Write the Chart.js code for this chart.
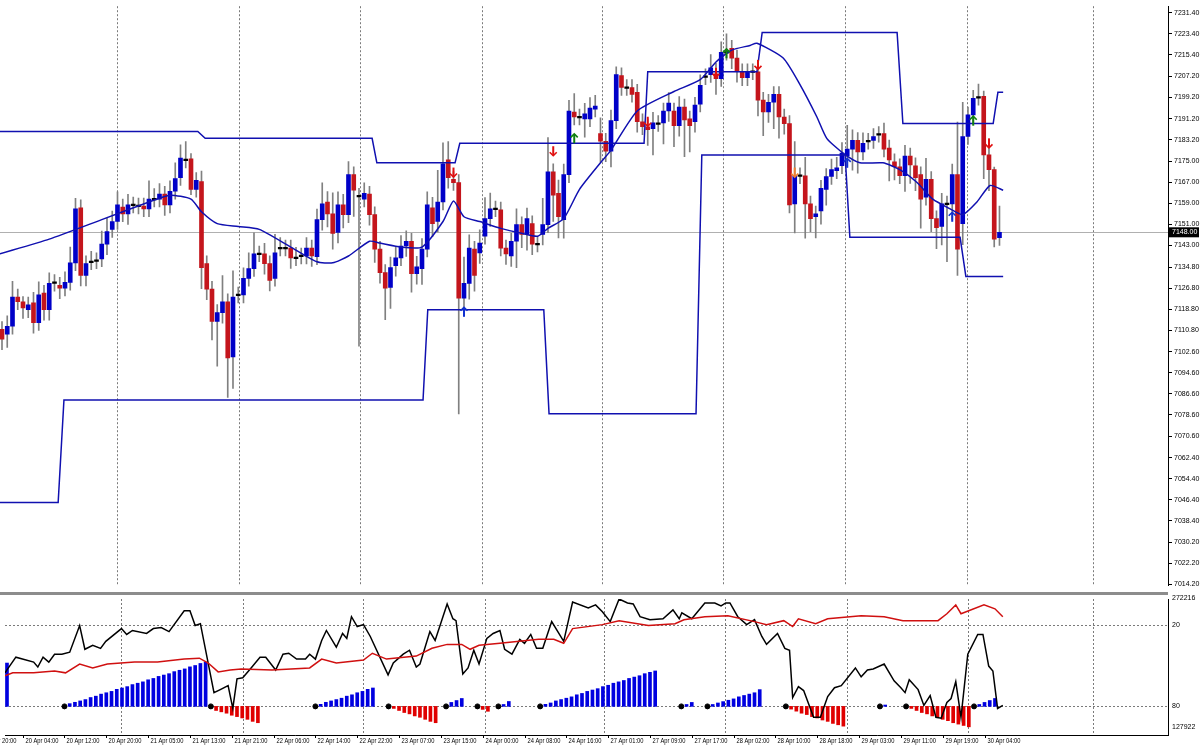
<!DOCTYPE html>
<html><head><meta charset="utf-8">
<script src="https://cdn.jsdelivr.net/npm/chart.js@4.4.1/dist/chart.umd.min.js"></script>
<style>
html,body{margin:0;padding:0;background:#fff;overflow:hidden}
#w{position:relative;width:1200px;height:747px}
#c1{position:absolute;left:0;top:0}
#c2{position:absolute;left:0;top:594px}
#sep{position:absolute;left:0;top:592px;width:1168px;height:3px;background:#8c8c8c}
</style></head><body>
<div id="w"><canvas id="c1" width="1200" height="592"></canvas><div id="sep"></div><canvas id="c2" width="1200" height="153"></canvas></div>
<script>
const opens=[7111.1,7109.3,7112.3,7123.4,7121.6,7118.6,7121.2,7113.7,7124.9,7118.6,
7128.6,7127.9,7126.8,7129.0,7136.4,7157.3,7131.6,7136.8,7137.2,7137.9,
7143.5,7149.1,7152.1,7157.6,7155.0,7158.4,7158.0,7158.0,7156.9,7160.6,
7160.6,7162.5,7158.4,7163.6,7168.8,7175.5,7175.9,7164.3,7167.3,7136.1,
7126.4,7114.1,7117.5,7121.6,7100.7,7124.2,7124.2,7130.5,7134.2,7139.8,
7139.8,7136.1,7130.5,7142.0,7142.0,7142.0,7138.3,7139.0,7139.0,7142.0,
7138.7,7152.8,7159.5,7155.0,7148.0,7158.4,7154.7,7169.9,7161.7,7160.6,
7162.5,7154.7,7141.6,7132.7,7127.1,7135.3,7138.3,7142.8,7144.6,7132.3,
7134.2,7141.6,7157.3,7152.1,7159.5,7175.5,7168.1,7166.9,7123.0,7128.6,
7141.6,7140.2,7146.5,7153.2,7156.9,7156.5,7142.0,7139.0,7144.6,7150.9,
7147.2,7151.3,7143.5,7147.2,7150.9,7171.0,7162.8,7152.8,7169.9,7193.7,
7191.8,7191.1,7191.1,7194.8,7185.5,7182.6,7178.8,7190.4,7207.5,7203.0,
7203.0,7201.2,7190.0,7188.1,7187.4,7189.3,7189.6,7194.1,7194.1,7188.5,
7195.6,7191.1,7190.0,7196.7,7207.1,7207.9,7208.2,7206.4,7216.4,7217.9,
7214.2,7209.0,7206.7,7209.0,7209.0,7198.2,7193.7,7197.4,7200.4,7191.8,
7189.3,7158.8,7169.5,7169.5,7158.8,7153.9,7156.1,7164.3,7169.2,7171.4,
7173.3,7177.0,7179.6,7182.9,7178.5,7182.6,7182.9,7185.2,7185.5,7180.0,
7174.8,7172.9,7169.5,7177.0,7173.3,7169.9,7161.3,7168.1,7153.2,7150.2,
7158.8,7158.8,7169.9,7151.3,7184.4,7192.6,7199.3,7199.7,7177.4,7171.8,
7146.0];
const closes=[7107.4,7112.3,7123.4,7121.6,7119.3,7120.4,7113.7,7124.2,7118.6,7128.6,
7128.9,7126.8,7129.0,7136.4,7156.9,7131.6,7136.1,7136.8,7137.2,7143.5,
7148.3,7152.1,7158.4,7155.0,7158.4,7158.4,7158.0,7156.9,7160.6,7160.6,
7162.5,7158.4,7163.6,7168.4,7176.2,7175.5,7164.3,7167.7,7134.6,7126.4,
7114.1,7117.5,7121.6,7100.3,7123.4,7124.2,7130.5,7134.2,7139.8,7139.8,
7136.1,7129.7,7140.2,7142.0,7142.0,7138.3,7138.3,7139.0,7142.0,7139.0,
7152.8,7158.8,7155.0,7147.6,7158.4,7154.7,7169.9,7164.0,7161.7,7162.8,
7154.7,7141.6,7132.7,7126.8,7134.6,7138.3,7142.8,7144.6,7132.3,7134.9,
7141.6,7158.4,7151.3,7159.5,7174.0,7168.8,7166.9,7123.0,7128.6,7142.0,
7131.6,7143.9,7153.2,7156.9,7156.9,7142.0,7139.8,7144.6,7150.9,7147.2,
7153.2,7143.5,7143.5,7150.9,7171.0,7162.1,7153.9,7169.9,7194.1,7191.8,
7191.8,7193.0,7195.2,7196.0,7182.6,7178.8,7190.4,7207.9,7203.0,7203.0,
7200.4,7190.0,7188.1,7187.0,7189.6,7189.3,7194.1,7197.1,7188.5,7195.6,
7190.7,7188.5,7196.3,7203.8,7207.1,7210.5,7206.4,7216.4,7216.4,7214.2,
7209.0,7206.7,7209.0,7209.0,7198.2,7193.7,7197.4,7200.4,7191.8,7189.3,
7158.4,7169.5,7169.5,7158.8,7153.2,7155.0,7164.7,7169.2,7171.8,7172.5,
7178.1,7179.6,7182.9,7178.5,7181.8,7182.6,7184.4,7185.2,7179.6,7175.5,
7172.9,7169.5,7177.0,7173.6,7168.8,7160.6,7168.1,7153.2,7149.8,7158.8,
7158.8,7169.9,7141.6,7184.4,7192.6,7198.9,7199.3,7177.4,7171.8,7145.4,
7148.0];
const wickUp=[3,4,6,3,2,3,4,5,3,4, 3,3,4,6,4,3,3,4,3,5, 5,4,5,3,4,3,3,3,7,4, 4,3,4,6,5,7,2,3,4,3,
3,3,10,3,10,3,4,6,8,3, 4,3,7,4,3,3,4,3,4,3, 4,8,4,8,5,4,5,3,3,4, 3,3,3,3,4,4,4,4,3,4,
4,5,4,12,8,7,3,3,10,5, 3,5,8,6,3,3,3,3,6,3, 4,3,3,10,13,3,5,4,4,7, 3,4,4,4,6,3,4,3,3,3,
3,3,3,3,4,3,3,4,3,4, 3,3,3,4,3,5,4,4,7,3, 3,3,3,3,3,3,3,3,3,3, 3,13,3,7,3,3,3,3,4,4,
4,9,4,3,4,3,3,3,4,3, 3,3,4,3,3,3,8,3,3,4, 3,4,20,13,3,3,5,2,3,1, 10];
const wickDn=[4,5,3,3,4,3,4,3,4,4, 3,4,3,3,3,4,4,3,3,3, 4,3,3,3,4,3,3,3,3,3, 3,4,3,3,3,3,2,3,8,4,
7,17,4,15,12,3,3,3,3,3, 4,4,3,3,3,4,3,3,3,4, 3,4,5,6,4,5,3,10,57,3, 4,5,4,12,8,4,3,4,7,4,
6,3,5,4,3,4,3,44,4,6, 6,4,3,3,3,3,4,4,10,5, 6,4,3,4,3,10,8,7,3,3, 3,7,3,3,8,4,6,3,3,3,
3,4,3,6,10,3,8,4,8,4, 14,10,4,3,3,3,6,3,3,4, 4,3,3,3,6,9,4,10,8,4, 3,11,3,13,5,8,5,6,3,3,
3,4,8,8,3,3,3,3,3,8, 5,3,6,7,5,11,3,5,8,7, 22,6,10,8,3,3,3,9,8,3, 3];
const maLine=[[-0.4,7139.8],[9,7145.4],[19,7152.8],[28,7159.5],[32,7162.1],[36,7160.6],[38,7155.8],[41,7151.3],[45,7150.2],[49,7149.1],[55,7142.4],[60,7136.8],[63,7136.4],[66,7139.0],[70,7144.6],[72,7143.9],[76,7142.4],[80,7142.4],[84,7152.1],[86,7159.9],[88,7153.9],[91,7152.1],[95,7149.5],[99,7147.6],[102,7146.5],[104,7149.5],[107,7153.2],[110,7164.3],[114,7174.4],[116,7179.2],[121,7194.1],[128,7201.5],[133,7206.0],[136,7212.7],[139,7217.2],[142.5,7219.0],[143.8,7219.8],[148.8,7214.2],[152,7204.1],[155.2,7191.9],[157.1,7183.7],[160.2,7178.1],[163.4,7174.4],[167.8,7174.4],[171,7171.8],[174.3,7166.9],[177.3,7160.6],[180.6,7156.9],[183,7154.7],[185.7,7159.5],[188.2,7165.8],[190.7,7164.0]];
const upperBand=[[-0.4,7186.3],[37.3,7186.3],[38.7,7183.7],[70.5,7183.7],[71.4,7174.4],[86.3,7174.4],[87.2,7181.8],[122.3,7181.8],[123.0,7209.0],[143.8,7209.0],[144.8,7223.9],[170.5,7223.9],[171.6,7189.3],[188.8,7189.3],[189.7,7201.2],[190.7,7201.2]];
const lowerBand=[[-0.4,7045.3],[10.7,7045.3],[11.8,7084.3],[80.2,7084.3],[81.1,7118.6],[103.2,7118.6],[104.2,7079.1],[132.2,7079.1],[133.3,7177.4],[160.6,7177.4],[161.5,7146.1],[182.5,7146.1],[183.6,7131.2],[190.7,7131.2]];
const redArrows=[[105,7178.8],[86,7170.7],[123,7190.0],[136,7208.6],[144,7211.6],[151,7170.7],[188,7181.8]];
const greenArrows=[[109,7183.7],[138,7216.0],[185,7190.4]];
const blueArrows=[[88,7117.8],[161,7174.4],[181,7153.9]];
const priceTicks=[7231.4,7223.4,7215.4,7207.2,7199.2,7191.2,7183.2,7175.0,7167.0,7159.0,7151.0,7143.0,7134.8,7126.8,7118.8,7110.8,7102.6,7094.6,7086.6,7078.6,7070.6,7062.4,7054.4,7046.4,7038.4,7030.2,7022.2,7014.2];
const lastPrice=7148.0;
const dayLines=[21.9,45.1,68.2,91.4,114.3,137.3,160.6,183.8,207.8];
const timeLabels=[[-5,"17 Apr 20:00"],[3,"20 Apr 04:00"],[11,"20 Apr 12:00"],[19,"20 Apr 20:00"],[27,"21 Apr 05:00"],[35,"21 Apr 13:00"],[43,"21 Apr 21:00"],[51,"22 Apr 06:00"],[59,"22 Apr 14:00"],[67,"22 Apr 22:00"],[75,"23 Apr 07:00"],[83,"23 Apr 15:00"],[91,"24 Apr 00:00"],[99,"24 Apr 08:00"],[107,"24 Apr 16:00"],[115,"27 Apr 01:00"],[123,"27 Apr 09:00"],[131,"27 Apr 17:00"],[139,"28 Apr 02:00"],[147,"28 Apr 10:00"],[155,"28 Apr 18:00"],[163,"29 Apr 03:00"],[171,"29 Apr 11:00"],[179,"29 Apr 19:00"],[187,"30 Apr 04:00"]];
const histBlue=[[0,48.2],
[12,78],[13,77],[14,76],[15,75],[16,73.5],[17,72.5],[18,71],[19,70],[20,69],[21,67.5],[22,66.5],[23,65.5],[24,64],[25,63],[26,62],[27,60.5],[28,59.5],[29,58],[30,57],[31,56],[32,54.5],[33,53.5],[34,52.5],[35,51],[36,50],[37,48.5],[38,47.5],
[60,78.5],[61,77],[62,76],[63,75],[64,74],[65,72.5],[66,71.5],[67,70],[68,69],[69,67.5],[70,66.5],
[85,77.1],[86,75.7],[87,74.2],[95,78.6],[96,76.4],
[103,78.5],[104,77.5],[105,76],[106,75],[107,74],[108,73],[109,71.5],[110,70.5],[111,69],[112,68],[113,67],[114,65.5],[115,64.5],[116,63],[117,62],[118,61],[119,59.5],[120,58.5],[121,57.5],[122,56],[123,55],[124,54],
[130,78.6],[131,77.1],
[135,78.6],[136,77.5],[137,76.5],[138,75.5],[139,74.5],[140,73],[141,72],[142,71],[143,70],[144,67.7],
[168,79],[186,78.6],[187,77.1],[188,75.7],[189,74.2]];
const histRed=[[40,83],[41,84],[42,85],[43,86.5],[44,87.5],[45,88.5],[46,89.5],[47,91],[48,92],
[74,81.5],[75,83],[76,84.5],[77,85.5],[78,87],[79,88],[80,89.5],[81,91],[82,92],
[91,82.2],[92,83.6],
[150,82],[151,83.5],[152,85],[153,86],[154,87.5],[155,88.5],[156,90],[157,91],[158,92.5],[159,93.5],[160,94.5],
[173,81.5],[174,83],[175,84.5],[176,85.5],[177,87],[178,88],[179,89.5],[180,90.5],[181,92],[182,93],[183,94],[184,95]];
const histDots=[11,39,59,73,84,90,94,102,129,134,149,167,172,185];
const blackLine=[[-0.4,55.4],[1.7,43.9],[5.1,47.5],[5.9,51.1],[6.9,43.9],[8.0,47.5],[9.1,41.7],[10.5,41.7],[12.0,40.2],[13.9,20.7],[14.9,38.1],[16.4,35.2],[17.9,37.4],[18.9,32.3],[21.9,22.9],[22.9,27.2],[24.0,24.3],[26.7,26.5],[28.0,22.9],[29.5,22.2],[31.0,25.1],[33.9,9.9],[35.0,9.9],[36.0,20.7],[37.0,19.3],[39.6,69.9],[40.8,67.7],[42.3,64.8],[43.2,81.5],[44.0,59.8],[45.1,59.0],[46.7,51.8],[48.4,43.9],[49.5,43.9],[51.4,53.3],[52.8,41.7],[53.9,41.0],[55.4,45.3],[57.1,45.3],[57.9,41.7],[59.0,45.3],[60.2,31.6],[61.1,24.3],[63.0,36.6],[64.2,26.5],[65.0,30.1],[65.9,14.2],[67.0,21.4],[68.2,20],[69.5,28.7],[72.9,56.9],[73.9,48.2],[75.8,41.7],[77.0,38.8],[78.3,51.1],[79.0,48.9],[80.9,25.1],[81.9,31.6],[84.2,4.8],[85.3,15.7],[85.9,17.1],[87.2,56.2],[88.2,51.8],[89.3,38.8],[90.3,48.9],[91.8,30.1],[93.0,26.5],[94.3,24.3],[95.2,38.1],[96.6,41.7],[98.1,30.8],[99.0,33.7],[100.2,27.2],[101.3,37.4],[102.5,37.4],[104.2,17.8],[106.5,32.3],[108.2,3.4],[111.2,7.7],[112.6,5.5],[113.9,10.6],[115.4,17.8],[117.1,1.2],[118.7,4.1],[119.8,4.8],[121.1,14.2],[123.0,16.4],[125.5,15.7],[127.4,9.2],[128.6,15.7],[129.1,11.3],[131.0,15.7],[133.5,4.1],[135.4,4.1],[136.6,6.3],[137.5,4.1],[138.3,4.1],[139.8,14.2],[141.5,20],[143.0,16.4],[144.4,28.7],[145.3,34.5],[147.4,26.5],[148.8,37.4],[149.7,38.8],[150.3,73.5],[151.4,65.5],[152.4,68.4],[154.3,88.0],[155.6,88.0],[157.0,72.8],[158.3,66.3],[159.6,64.8],[162.3,51.8],[163.4,58.3],[164.6,53.3],[165.7,52.5],[167.8,48.9],[169.7,61.2],[171.0,66.3],[171.8,69.9],[172.6,60.5],[174.3,67.7],[175.4,79.3],[176.6,72.1],[177.7,88.0],[178.7,88.7],[179.8,77.1],[180.6,74.2],[181.5,61.9],[182.5,88.0],[183.8,41.7],[185.7,27.2],[186.7,27.2],[187.8,50.4],[188.6,54.0],[189.5,81.5],[190.5,79.3]];
const redLine=[[-0.4,57.6],[1.1,55.4],[5.1,55.4],[9.1,54.0],[11.2,55.4],[13.9,48.9],[16.4,51.8],[19.2,48.9],[24.4,47.5],[28.8,47.5],[33.9,45.3],[36.8,44.6],[38.5,48.2],[40.4,54.7],[42.7,53.3],[44.8,52.5],[50.7,53.3],[57.9,51.8],[60.2,45.3],[63.0,48.2],[68.2,46.0],[69.9,41.0],[72.6,45.3],[78.3,43.1],[81.3,37.4],[84.2,34.5],[87.0,34.5],[88.6,38.1],[90.3,35.2],[94.3,33.7],[101.7,30.8],[104.6,30.8],[106.5,33.7],[108.2,22.9],[113.9,20],[117.1,17.1],[122.7,20.7],[127.8,19.3],[129.5,16.4],[133.5,14.2],[137.9,13.5],[143.0,17.8],[145.3,20],[148.6,17.1],[150.3,21.4],[151.4,15.7],[154.7,19.3],[157.0,15.7],[163.4,13.5],[167.8,14.2],[171.4,17.1],[178.1,17.1],[179.8,12.0],[181.5,5.5],[182.5,12.0],[186.9,5.5],[189.0,8.4],[190.5,14.2]];
const indLabels=[[0.4,"272216"],[20,"20"],[80,"80"],[95,"127922"]];

const XMIN=-0.38, XMAX=222.1;
const BLUE='#0000c8', RED='#c4151c', LBLUE='#1010b0';
const FONT='7px "Liberation Sans"';
const bodies=[],wicks=[],bodyCol=[];
closes.forEach((c,i)=>{const o=opens[i];
 const hi=Math.max(o,c)+wickUp[i], lo=Math.min(o,c)-wickDn[i];
 wicks.push({x:i,y:[lo,hi]});
 if(Math.abs(o-c)<0.5){bodies.push({x:i,y:[c-0.3,c+0.3]});bodyCol.push('#000');}
 else{bodies.push({x:i,y:[o,c]});bodyCol.push(c>o?BLUE:RED);}
});
const pts=a=>a.map(p=>({x:p[0],y:p[1]}));
const fitW=s=>{s.width=32;};

function dashV(chart){const {ctx,chartArea:a,scales:{x}}=chart;ctx.save();ctx.strokeStyle='#7a7a7a';ctx.lineWidth=1;ctx.setLineDash([2,2]);
 dayLines.forEach(v=>{const px=Math.round(x.getPixelForValue(v))+0.5;ctx.beginPath();ctx.moveTo(px,a.top);ctx.lineTo(px,a.bottom);ctx.stroke();});ctx.restore();}

function arrow(ctx,x,y,up,col){ctx.save();ctx.strokeStyle=col;ctx.lineWidth=2;ctx.beginPath();
 const d=up?1:-1;ctx.moveTo(x,y+5*d);ctx.lineTo(x,y-4*d);ctx.stroke();
 ctx.lineWidth=1.6;ctx.beginPath();ctx.moveTo(x-3.5,y-1*d);ctx.lineTo(x,y-4.5*d);ctx.lineTo(x+3.5,y-1*d);ctx.stroke();ctx.restore();}

const mainPlug={id:'mainPlug',
 beforeDatasetsDraw(chart){dashV(chart);const {ctx,chartArea:a,scales:{y}}=chart;const py=Math.round(y.getPixelForValue(lastPrice))+0.5;
  ctx.save();ctx.strokeStyle='#b0b0b0';ctx.lineWidth=1;ctx.beginPath();ctx.moveTo(a.left,py);ctx.lineTo(a.right,py);ctx.stroke();ctx.restore();},
 afterDatasetsDraw(chart){const {ctx,scales:{x,y}}=chart;
  redArrows.forEach(p=>arrow(ctx,x.getPixelForValue(p[0]),y.getPixelForValue(p[1]),false,p[0]===151?'#f08030':'#e01010'));
  greenArrows.forEach(p=>arrow(ctx,x.getPixelForValue(p[0]),y.getPixelForValue(p[1]),true,'#108010'));
  blueArrows.forEach(p=>arrow(ctx,x.getPixelForValue(p[0]),y.getPixelForValue(p[1]),true,'#1030d0'));},
 afterDraw(chart){const {ctx,chartArea:a,scales:{y}}=chart;const py=y.getPixelForValue(lastPrice);
  ctx.save();ctx.fillStyle='#000';ctx.fillRect(a.right+1,py-5,30,10);ctx.fillStyle='#fff';ctx.font=FONT;ctx.textBaseline='middle';ctx.fillText(lastPrice.toFixed(2),a.right+4,py);ctx.restore();}
};

new Chart(document.getElementById('c1'),{
 type:'bar',
 data:{datasets:[
  {type:'line',data:pts(upperBand),borderColor:LBLUE,borderWidth:1.5,pointRadius:0,order:0},
  {type:'line',data:pts(lowerBand),borderColor:LBLUE,borderWidth:1.5,pointRadius:0,order:0},
  {type:'line',data:pts(maLine),borderColor:LBLUE,borderWidth:1.5,pointRadius:0,tension:0.2,order:0},
  {data:bodies,backgroundColor:bodyCol,barThickness:4,grouped:false,order:1,borderWidth:0},
  {data:wicks,backgroundColor:'#808080',barThickness:1,grouped:false,order:2,borderWidth:0}
 ]},
 options:{responsive:false,animation:false,layout:{padding:0},
  plugins:{legend:{display:false},tooltip:{enabled:false}},
  scales:{
   x:{type:'linear',min:XMIN,max:XMAX,display:false,offset:false},
   y:{position:'right',min:7013.7,max:7233.9,afterFit:fitW,
     afterBuildTicks:s=>{s.ticks=priceTicks.map(v=>({value:v}));},
     ticks:{callback:v=>Number(v).toFixed(2),font:{size:7,family:'Liberation Sans'},color:'#000',padding:2,autoSkip:false},
     grid:{drawOnChartArea:false,tickLength:4,color:'#000'},border:{color:'#000'}}
  }},
 plugins:[mainPlug]
});

const lowPlug={id:'lowPlug',
 beforeDatasetsDraw(chart){dashV(chart);const {ctx,chartArea:a,scales:{y}}=chart;ctx.save();ctx.strokeStyle='#7a7a7a';ctx.setLineDash([2,2]);
  [20,80].forEach(v=>{const py=Math.round(y.getPixelForValue(v))+0.5;ctx.beginPath();ctx.moveTo(a.left,py);ctx.lineTo(a.right,py);ctx.stroke();});ctx.restore();},
 afterDraw(chart){const {ctx,chartArea:a,scales:{x,y}}=chart;ctx.save();
  ctx.fillStyle='#000';ctx.font=FONT;ctx.textBaseline='middle';
  indLabels.forEach(l=>{ctx.fillText(l[1],a.right+4,y.getPixelForValue(l[0]));});
  ctx.strokeStyle='#000';ctx.lineWidth=1;ctx.beginPath();ctx.moveTo(a.left,a.bottom+0.5);ctx.lineTo(a.right,a.bottom+0.5);ctx.stroke();
  ctx.textBaseline='top';
  timeLabels.forEach(t=>{const px=Math.round(x.getPixelForValue(t[0]))+0.5;ctx.beginPath();ctx.moveTo(px,a.bottom);ctx.lineTo(px,a.bottom+3);ctx.stroke();
   ctx.save();ctx.translate(px+2,a.bottom+3);ctx.scale(0.82,1);ctx.fillText(t[1],0,0);ctx.restore();});
  ctx.restore();}
};

new Chart(document.getElementById('c2'),{
 type:'bar',
 data:{datasets:[
  {type:'line',data:pts(redLine),borderColor:'#d01010',borderWidth:1.5,pointRadius:0,order:0},
  {type:'line',data:pts(blackLine),borderColor:'#000',borderWidth:1.5,pointRadius:0,order:0},
  {type:'scatter',data:histDots.map(i=>({x:i,y:80})),backgroundColor:'#000',borderColor:'#000',pointRadius:2.5,order:0},
  {data:histBlue.map(p=>({x:p[0],y:[80,p[1]]})),backgroundColor:'#0000e0',barThickness:3,grouped:false,order:1,borderWidth:0},
  {data:histRed.map(p=>({x:p[0],y:[80,p[1]]})),backgroundColor:'#e00000',barThickness:3,grouped:false,order:1,borderWidth:0}
 ]},
 options:{responsive:false,animation:false,layout:{padding:{top:3,bottom:12}},
  plugins:{legend:{display:false},tooltip:{enabled:false}},
  scales:{
   x:{type:'linear',min:XMIN,max:XMAX,display:false,offset:false},
   y:{position:'right',reverse:true,min:1.2,max:101,afterFit:fitW,ticks:{display:false},grid:{display:false},border:{color:'#000'}}
  }},
 plugins:[lowPlug]
});
</script></body></html>
